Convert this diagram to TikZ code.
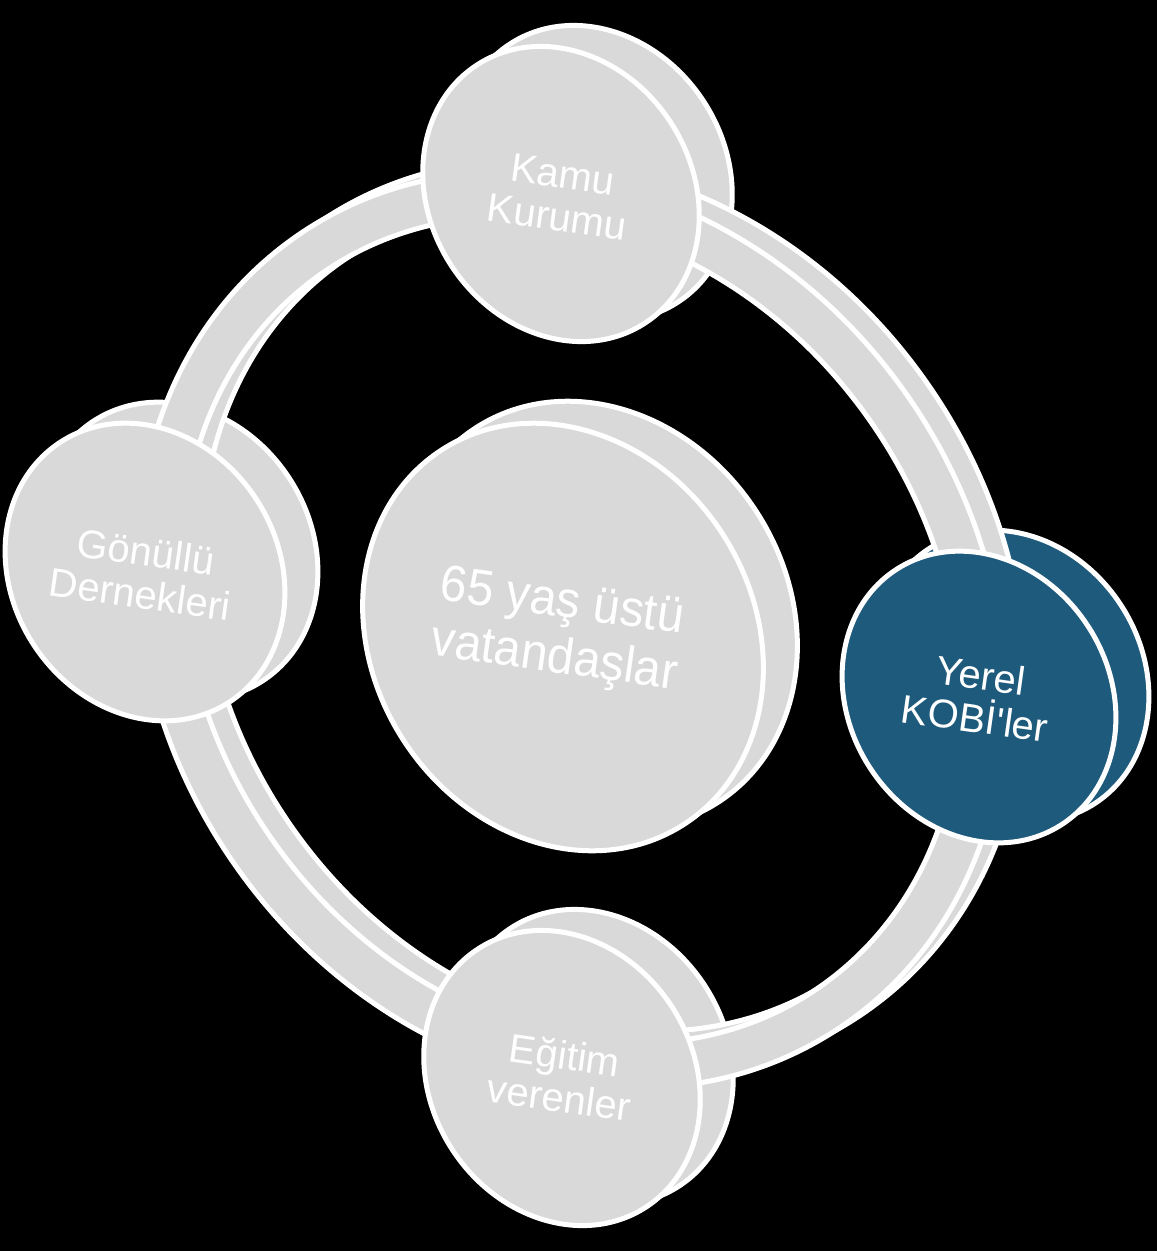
\documentclass[tikz,border=0pt]{standalone}
\usepackage{fontspec}
\setmainfont{Liberation Sans}
\definecolor{discgray}{RGB}{217,217,217}
\definecolor{kobiblue}{RGB}{30,90,124}
\tikzset{
  discface/.style={fill=discgray, draw=white, line width=5pt},
  ringband/.style={fill=discgray, draw=white, line width=5pt, even odd rule},
  disctext/.style={text=white, align=center, rotate=-8, font=\fontsize{40}{43}\selectfont},
  bigtext/.style={text=white, align=center, rotate=-8, xscale=0.94, font=\fontsize{51}{56}\selectfont},
}
\begin{document}
\begin{tikzpicture}[x=1pt,y=-1pt]
    \useasboundingbox (0,0) rectangle (1157,1251);
    \fill[black] (0,0) rectangle (1157,1251);
    % back faces
    \draw[discface,shift={(594,173)},rotate=33] (0,0) ellipse [x radius=131pt,y radius=154pt];
    \draw[discface,shift={(178,551)},rotate=33] (0,0) ellipse [x radius=133pt,y radius=155pt];
    \draw[discface,fill=kobiblue,shift={(1012,676)},rotate=33] (0,0) ellipse [x radius=130pt,y radius=152pt];
    \draw[discface,shift={(595,1057)},rotate=33] (0,0) ellipse [x radius=131pt,y radius=154pt];
    \draw[discface,shift={(597,615)},rotate=33] (0,0) ellipse [x radius=190pt,y radius=223pt];
    % the ring
    \draw[ringband,shift={(591,618)},rotate=35] (0,0) ellipse [x radius=410pt,y radius=480pt] (0,0) ellipse [x radius=365pt,y radius=435pt];
    \draw[ringband,shift={(571,630)},rotate=35] (0,0) ellipse [x radius=410pt,y radius=480pt] (0,0) ellipse [x radius=365pt,y radius=435pt];
    % front faces
    \draw[discface,shift={(561,194)},rotate=33] (0,0) ellipse [x radius=131pt,y radius=154pt];
    \draw[discface,shift={(145,572)},rotate=33] (0,0) ellipse [x radius=133pt,y radius=155pt];
    \draw[discface,fill=kobiblue,shift={(979,697)},rotate=33] (0,0) ellipse [x radius=130pt,y radius=152pt];
    \draw[discface,shift={(562,1078)},rotate=33] (0,0) ellipse [x radius=131pt,y radius=154pt];
    \draw[discface,shift={(563,637)},rotate=33] (0,0) ellipse [x radius=190pt,y radius=223pt];
    % texts
    \node[disctext] (kamu) at (560,196) {Kamu\\Kurumu};
    \node[disctext] (gonullu) at (143,573) {Gönüllü\\Dernekleri};
    \node[disctext] (kobi) at (978,697) {Yerel\\KOBİ\textquotesingle ler};
    \node[disctext] (egitim) at (562,1076) {Eğitim\\verenler};
    \node[bigtext] (yasli) at (558,632) {65 yaş üstü\\vatandaşlar};
\end{tikzpicture}
\end{document}
